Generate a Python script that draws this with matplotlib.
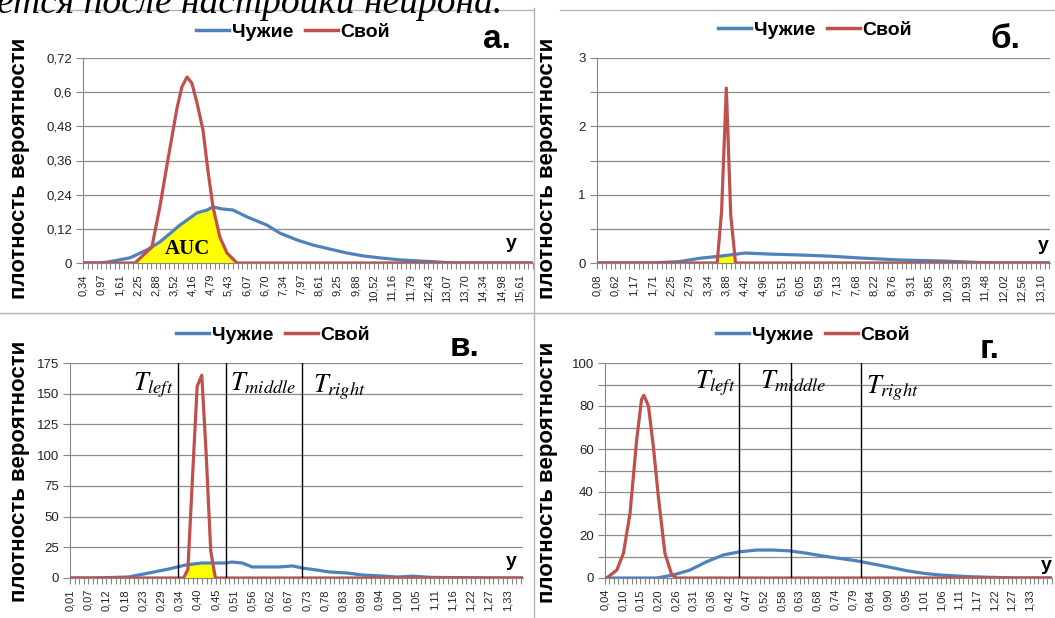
import numpy as np
import matplotlib.pyplot as plt
from matplotlib.lines import Line2D

plt.rcParams['font.family'] = ['Liberation Sans', 'DejaVu Sans']
plt.rcParams['mathtext.fontset'] = 'stix'

W, H = 1055, 618
BLUE = '#4F81BD'
RED = '#C0504D'
GRID = '#8c8c8c'

# ---- panel а ----
a_labels = ['0,34', '0,97', '1,61', '2,25', '2,88', '3,52', '4,16', '4,79', '5,43', '6,07',
            '6,70', '7,34', '7,97', '8,61', '9,25', '9,88', '10,52', '11,16', '11,79', '12,43',
            '13,07', '13,70', '14,34', '14,98', '15,61']
a_blue_x = [0.34, 0.93, 1.18, 1.98, 2.58, 3.03, 3.45, 3.73, 4.08, 4.33, 4.68, 4.89, 5.20, 5.59,
            6.08, 6.78, 7.23, 7.83, 8.39, 8.98, 9.58, 10.14, 10.73, 11.43, 12.13, 12.83, 13.36, 16.09]
a_blue_y = [0, 0, 0.003, 0.018, 0.046, 0.074, 0.109, 0.133, 0.158, 0.176, 0.186, 0.197, 0.190, 0.186,
            0.162, 0.133, 0.105, 0.081, 0.063, 0.049, 0.035, 0.025, 0.018, 0.011, 0.007, 0.003, 0, 0]
a_red_x = [0.34, 2.16, 2.75, 3.03, 3.31, 3.63, 3.80, 3.98, 4.15, 4.33, 4.54, 4.71, 4.89, 5.13,
           5.38, 5.73, 16.09]
a_red_y = [0, 0, 0.056, 0.197, 0.362, 0.544, 0.618, 0.653, 0.632, 0.562, 0.467, 0.327, 0.197, 0.091,
           0.035, 0, 0]
a_yticks = [0, 0.12, 0.24, 0.36, 0.48, 0.6, 0.72]
a_ylabels = ['0', '0,12', '0,24', '0,36', '0,48', '0,6', '0,72']

# ---- panel б ----
b_labels = ['0,08', '0,62', '1,17', '1,71', '2,25', '2,79', '3,34', '3,88', '4,42', '4,96',
            '5,51', '6,05', '6,59', '7,13', '7,68', '8,22', '8,76', '9,31', '9,85', '10,39',
            '10,93', '11,48', '12,02', '12,56', '13,10']
b_blue_x = [0.08, 1.64, 2.5, 3.11, 3.7, 4.43, 5.17, 6.05, 6.93, 7.81, 8.99, 10.16, 11.34, 11.9, 13.39]
b_blue_y = [0, 0, 0.02, 0.07, 0.10, 0.146, 0.13, 0.117, 0.10, 0.073, 0.044, 0.03, 0.007, 0, 0]
b_red_x = [0.08, 3.47, 3.61, 3.74, 3.88, 4.01, 4.15, 4.28, 13.39]
b_red_y = [0, 0, 0.0, 0.75, 2.56, 0.7, 0.0, 0, 0]
b_yticks = [0, 0.5, 1, 1.5, 2, 2.5, 3]
b_ylabels = ['0', '', '1', '', '2', '', '3']

# ---- panel в ----
c_labels = ['0,01', '0,07', '0,12', '0,18', '0,23', '0,29', '0,34', '0,40', '0,45', '0,51',
            '0,56', '0,62', '0,67', '0,73', '0,78', '0,83', '0,89', '0,94', '1,00', '1,05',
            '1,11', '1,16', '1,22', '1,27', '1,33']
c_blue_x = [0.01, 0.08, 0.186, 0.247, 0.308, 0.359, 0.408, 0.481, 0.499, 0.53, 0.56, 0.59, 0.642,
            0.682, 0.712, 0.755, 0.794, 0.846, 0.894, 0.955, 0.998, 1.046, 1.098, 1.189, 1.28, 1.378]
c_blue_y = [0, 0, 0.8, 4, 7.3, 10.6, 12.2, 12.2, 13, 12.2, 9, 9, 9,
            9.8, 8.1, 6.5, 4.9, 4.1, 2.4, 1.6, 0.8, 1.5, 0.5, 0.3, 0, 0]
c_red_x = [0.01, 0.353, 0.366, 0.380, 0.394, 0.408, 0.421, 0.435, 0.449, 1.378]
c_red_y = [0, 0, 7, 82, 156, 165, 102, 22, 0, 0]
c_yticks = [0, 25, 50, 75, 100, 125, 150, 175]
c_ylabels = ['0', '25', '50', '75', '100', '125', '150', '175']
c_lines = [0.335, 0.481, 0.712]

# ---- panel г ----
d_labels = ['0,04', '0,10', '0,15', '0,20', '0,26', '0,31', '0,36', '0,42', '0,47', '0,52',
            '0,58', '0,63', '0,68', '0,74', '0,79', '0,84', '0,90', '0,95', '1,01', '1,06',
            '1,11', '1,17', '1,22', '1,27', '1,33']
d_blue_x = [0.04, 0.197, 0.247, 0.298, 0.349, 0.399, 0.45, 0.501, 0.551, 0.602, 0.653, 0.703,
            0.754, 0.804, 0.855, 0.906, 0.956, 1.007, 1.057, 1.148, 1.24, 1.285, 1.398]
d_blue_y = [0, 0, 1.4, 3.7, 7.6, 10.7, 12.2, 13, 13, 12.6, 11.5, 10.2,
            9.1, 8, 6.5, 5, 3.4, 2.2, 1.4, 0.6, 0.2, 0, 0]
d_red_x = [0.04, 0.045, 0.076, 0.096, 0.116, 0.136, 0.151, 0.158, 0.172, 0.187, 0.202, 0.222,
           0.243, 0.258, 1.398]
d_red_y = [0, 0, 3.7, 11.5, 30, 64, 83, 85, 80, 61, 38, 11.5, 1.4, 0, 0]
d_yticks = [0, 10, 20, 30, 40, 50, 60, 70, 80, 90, 100]
d_ylabels = ['0', '', '20', '', '40', '', '60', '', '80', '', '100']
d_lines = [0.447, 0.605, 0.819]

fig = plt.figure(figsize=(W / 100, H / 100), dpi=100)


def box(l, t, r, b):
    return [l / W, 1 - b / H, (r - l) / W, (b - t) / H]


def panel(rect, labels, x_end, bx, by, rx, ry, yticks, ylabels, fill):
    ax = fig.add_axes(rect)
    x0 = float(labels[0].replace(',', '.'))
    x1 = float(labels[-1].replace(',', '.'))
    step = (x1 - x0) / (len(labels) - 1)
    ax.set_xlim(x0, x_end)
    ax.set_ylim(yticks[0], yticks[-1])
    ax.set_xticks(x0 + step * np.arange(len(labels)))
    ax.set_xticklabels(labels, rotation=90, fontsize=8, color='#222222')
    ax.set_xticks(np.arange(x0, x_end + 1e-9, step / 4), minor=True)
    ax.set_yticks(yticks)
    ax.set_yticklabels(ylabels, fontsize=9.5, color='#222222')
    ax.tick_params(axis='x', which='both', direction='out', length=4, width=0.8,
                   color='#868686', pad=4)
    ax.tick_params(axis='y', direction='out', length=5, width=0.8, color='#868686', pad=3)
    ax.yaxis.grid(True, color=GRID, lw=0.9)
    ax.set_axisbelow(True)
    for s in ['top', 'right']:
        ax.spines[s].set_visible(False)
    ax.spines['left'].set_color('#868686')
    ax.spines['bottom'].set_color('#868686')
    if fill:
        xf = np.linspace(rx[1], rx[-2], 600)
        yf = np.minimum(np.interp(xf, bx, by), np.interp(xf, rx, ry))
        ax.fill_between(xf, 0, yf, color='#FFFF00', lw=0, zorder=2)
    ax.plot(bx, by, color=BLUE, lw=2.3, zorder=3, solid_joinstyle='round')
    ax.plot(rx, ry, color=RED, lw=2.3, zorder=4, solid_joinstyle='round')
    return ax


ax_a = panel(box(83, 58, 533, 263), a_labels, 16.09, a_blue_x, a_blue_y, a_red_x, a_red_y,
             a_yticks, a_ylabels, True)
ax_b = panel(box(597, 58, 1050, 263), b_labels, 13.39, b_blue_x, b_blue_y, b_red_x, b_red_y,
             b_yticks, b_ylabels, True)
ax_c = panel(box(70, 363, 523, 578), c_labels, 1.378, c_blue_x, c_blue_y, c_red_x, c_red_y,
             c_yticks, c_ylabels, True)
ax_d = panel(box(605, 363, 1052, 578), d_labels, 1.398, d_blue_x, d_blue_y, d_red_x, d_red_y,
             d_yticks, d_ylabels, False)

ax_a.text(3.98, 0.05, 'AUC', family='Liberation Serif', fontweight='bold', fontsize=15,
          ha='center', va='center', zorder=5)

for ax, xs in [(ax_c, c_lines), (ax_d, d_lines)]:
    for xv in xs:
        ax.axvline(xv, color='black', lw=1, zorder=5)

# T labels
for x, y, s in [(133, 390, r'$T_{left}$'), (230, 390, r'$T_{middle}$'), (313, 392, r'$T_{right}$'),
                (695, 388, r'$T_{left}$'), (760, 388, r'$T_{middle}$'), (866, 393, r'$T_{right}$')]:
    fig.text(x / W, 1 - y / H, s, fontsize=19, va='baseline', ha='left')

# legends
h_blue = Line2D([], [], color=BLUE, lw=2.5)
h_red = Line2D([], [], color=RED, lw=2.5)
for cx, cy in [(293, 32), (815, 30), (273, 335), (813, 335)]:
    fig.legend([h_blue, h_red], ['Чужие', 'Свой'], loc='center',
               bbox_to_anchor=(cx / W, 1 - cy / H), ncol=2, frameon=False,
               prop={'weight': 'bold', 'size': 14}, handlelength=1.7, handletextpad=0.15,
               columnspacing=0.6, borderpad=0)

# y-axis titles
for x, y in [(20, 168), (548, 168), (20, 471), (548, 472)]:
    fig.text(x / W, 1 - y / H, 'плотность вероятности', rotation=90, ha='center', va='center',
             fontsize=16, fontweight='bold')

# panel letters
for x, y, s in [(497, 40, 'а.'), (1005, 39, 'б.'), (465, 348, 'в.'), (990, 350, 'г.')]:
    fig.text(x / W, 1 - y / H, s, ha='center', va='center', fontsize=24, fontweight='bold')

# 'y' axis marks
for x, y in [(511, 243), (1043, 246), (511, 562), (1046, 565)]:
    fig.text(x / W, 1 - y / H, 'y', ha='center', va='center', fontsize=14, fontweight='bold')

# frame lines of the original charts
for xs, ys in [((35, 534), (10, 10)), ((560, 1055), (10, 10)), ((534, 534), (8, 618)),
               ((0, 1055), (313, 313))]:
    fig.add_artist(Line2D([xs[0] / W, xs[1] / W], [1 - ys[0] / H, 1 - ys[1] / H],
                          transform=fig.transFigure, color='#b4b4b4', lw=1))

# cut-off caption line at the top (only its lower part is inside the picture)
fig.text(-3 / W, 1 - 13 / H, 'ется после настройки нейрона.', family='Liberation Serif',
         style='italic', fontsize=27, va='baseline', ha='left')

fig.savefig('out.png', dpi=100)
